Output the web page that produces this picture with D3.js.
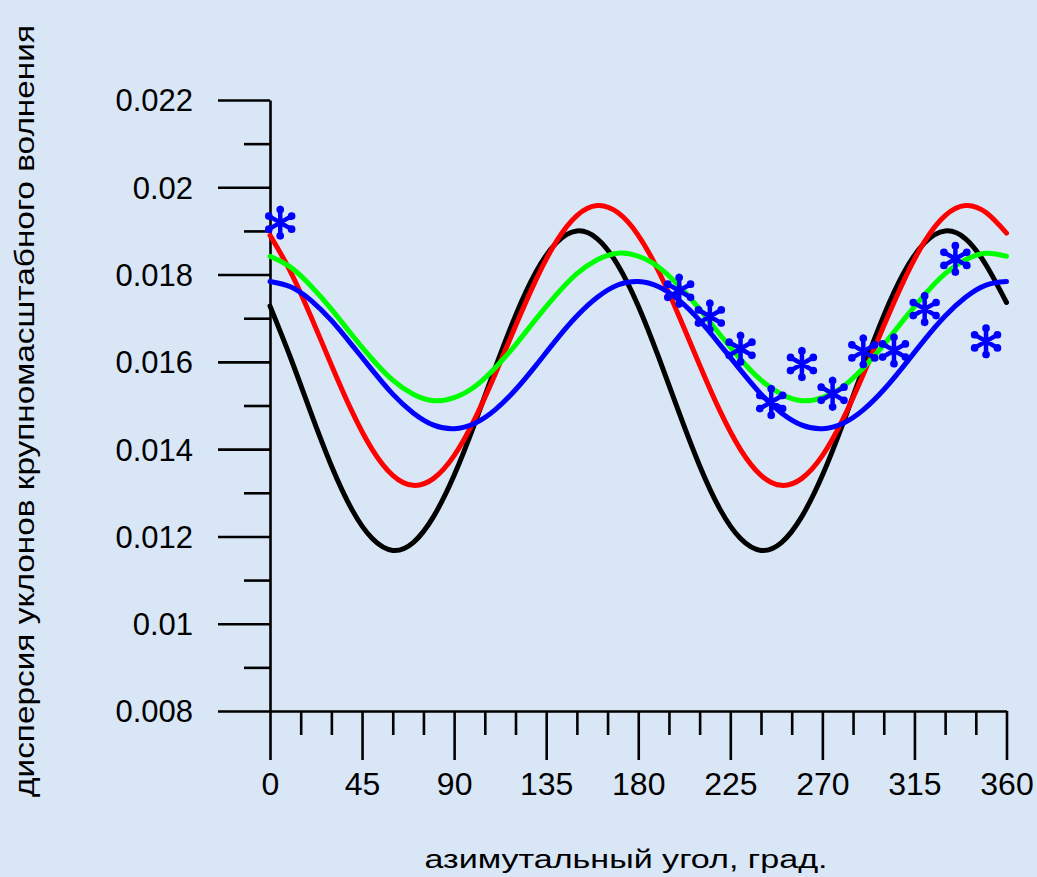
<!DOCTYPE html>
<html>
<head>
<meta charset="utf-8">
<script src="https://cdn.jsdelivr.net/npm/d3@7"></script>
<style>
  html, body { margin: 0; padding: 0; background: #d8e6f6; }
  svg { display: block; }
  text { font-family: Arial, "Liberation Sans", sans-serif; fill: #000; }
</style>
</head>
<body>
<svg id="chart" width="1037" height="877"></svg>
<script>
// ---- data ----
const angles = [0,10,20,30,40,50,60,70,80,90,100,110,120,130,140,150,160,170,180,
                190,200,210,220,230,240,250,260,270,280,290,300,310,320,330,340,350,360];
const blackSeries = [0.01728,0.01610,0.01483,0.01362,0.01262,0.01195,0.01168,0.01186,0.01246,0.01340,
                     0.01458,0.01585,0.01706,0.01806,0.01873,0.01900,0.01882,0.01822,0.01728,
                     0.01610,0.01483,0.01362,0.01262,0.01195,0.01168,0.01186,0.01246,0.01340,
                     0.01458,0.01585,0.01706,0.01806,0.01873,0.01900,0.01882,0.01822,0.01736];
const redSeries   = [0.01890,0.01807,0.01704,0.01593,0.01487,0.01399,0.01340,0.01317,0.01333,0.01385,
                     0.01468,0.01571,0.01682,0.01788,0.01876,0.01935,0.01958,0.01942,0.01890,
                     0.01807,0.01704,0.01593,0.01487,0.01399,0.01340,0.01317,0.01333,0.01385,
                     0.01468,0.01571,0.01682,0.01788,0.01876,0.01935,0.01958,0.01942,0.01895];
const greenSeries = [0.01842,0.01817,0.01774,0.01721,0.01662,0.01606,0.01558,0.01526,0.01511,0.01518,
                     0.01543,0.01586,0.01639,0.01698,0.01754,0.01802,0.01834,0.01849,0.01842,
                     0.01817,0.01774,0.01721,0.01662,0.01606,0.01558,0.01526,0.01511,0.01518,
                     0.01543,0.01586,0.01639,0.01698,0.01754,0.01802,0.01834,0.01849,0.01842];
const blueSeries  = [0.01784,0.01772,0.01741,0.01695,0.01639,0.01581,0.01526,0.01483,0.01455,0.01447,
                     0.01459,0.01490,0.01536,0.01592,0.01651,0.01705,0.01748,0.01776,0.01784,
                     0.01772,0.01741,0.01695,0.01639,0.01581,0.01526,0.01483,0.01455,0.01447,
                     0.01459,0.01490,0.01536,0.01592,0.01651,0.01705,0.01748,0.01776,0.01784];
const obsAngles = [5,200,215,230,245,260,275,290,305,320,335,350];
const obsValues = [0.01919,0.01763,0.01704,0.01630,0.01508,0.01595,0.01527,0.01624,0.01626,0.01721,0.01836,0.01647];

const xMajorTicks = [0,45,90,135,180,225,270,315,360];
const xMinorTicks = [15,30,60,75,105,120,150,165,195,210,240,255,285,300,330,345];
const yMajorTicks = [0.008,0.010,0.012,0.014,0.016,0.018,0.020,0.022];
const yMinorTicks = [0.009,0.011,0.013,0.015,0.017,0.019,0.021];
const yTickLabels = ["0.008","0.01","0.012","0.014","0.016","0.018","0.02","0.022"];

const xTitle = "азимутальный угол, град.";
const yTitle = "дисперсия уклонов крупномасштабного волнения";

// ---- layout ----
const svg = d3.select("#chart");
const x = d3.scaleLinear().domain([0, 360]).range([270, 1006.5]);
const y = d3.scaleLinear().domain([0.008, 0.022]).range([711, 100]);

svg.append("rect").attr("width", 1037).attr("height", 877).attr("fill", "#d8e6f6");

// x axis
const xMajor = d3.axisBottom(x).tickValues(xMajorTicks).tickSizeInner(49).tickSizeOuter(0)
  .tickFormat(d3.format("d"));
const gx = svg.append("g").attr("transform", `translate(0,${y(0.008)})`).call(xMajor);
gx.selectAll("text").attr("y", 84).attr("dy", "0").style("font-size", "32px");
const xMinor = d3.axisBottom(x).tickValues(xMinorTicks).tickSizeInner(24).tickSizeOuter(0).tickFormat("");
const gx2 = svg.append("g").attr("transform", `translate(0,${y(0.008)})`).call(xMinor);
gx2.select(".domain").remove();

// y axis
const yMajor = d3.axisLeft(y).tickValues(yMajorTicks).tickSizeInner(52).tickSizeOuter(0)
  .tickPadding(25).tickFormat((d, i) => yTickLabels[i]);
const gy = svg.append("g").attr("transform", `translate(${x(0)},0)`).call(yMajor);
gy.selectAll("text").style("font-size", "31px").attr("dy", "0.35em");
const yMinor = d3.axisLeft(y).tickValues(yMinorTicks).tickSizeInner(26).tickSizeOuter(0).tickFormat("");
const gy2 = svg.append("g").attr("transform", `translate(${x(0)},0)`).call(yMinor);
gy2.select(".domain").remove();

svg.selectAll(".domain, .tick line").attr("stroke", "#000").attr("stroke-width", 2.6);
svg.selectAll(".tick text").attr("fill", "#000").attr("font-family", "Arial, 'Liberation Sans', sans-serif");

// titles
svg.append("text").attr("x", 626).attr("y", 868).attr("text-anchor", "middle")
  .style("font-size", "26px").attr("textLength", 403).attr("lengthAdjust", "spacingAndGlyphs")
  .text(xTitle);
svg.append("text").attr("transform", "translate(33.5,411) rotate(-90)").attr("text-anchor", "middle")
  .style("font-size", "27px").attr("textLength", 772).attr("lengthAdjust", "spacingAndGlyphs")
  .text(yTitle);

// curves
const line = d3.line().x(d => x(d[0])).y(d => y(d[1])).curve(d3.curveNatural);
const series = [
  {vals: blackSeries, color: "#000000"},
  {vals: redSeries,   color: "#ff0000"},
  {vals: blueSeries,  color: "#0000ff"},
  {vals: greenSeries, color: "#00ff00"}
];
series.forEach(s => {
  svg.append("path")
    .datum(angles.map((a, i) => [a, s.vals[i]]))
    .attr("d", line)
    .attr("fill", "none")
    .attr("stroke", s.color)
    .attr("stroke-width", 5)
    .attr("stroke-linejoin", "round")
    .attr("stroke-linecap", "round");
});

// observation points: snowflake-like asterisk symbol (six arms with knobs)
const snowStar = {
  draw(context, size) {
    const r = Math.sqrt(size) * 0.6;
    for (let k = 0; k < 3; k++) {
      const ang = Math.PI / 2 + k * Math.PI / 3;
      const dx = r * Math.cos(ang), dy = r * Math.sin(ang);
      context.moveTo(-dx, -dy);
      context.lineTo(dx, dy);
    }
    for (let k = 0; k < 6; k++) {
      const ang = Math.PI / 2 + k * Math.PI / 3;
      const cx = r * 0.88 * Math.cos(ang), cy = r * 0.88 * Math.sin(ang);
      context.moveTo(cx + 1.6, cy);
      context.arc(cx, cy, 1.6, 0, 2 * Math.PI);
    }
  }
};
const star = d3.symbol().type(snowStar).size(620);
svg.append("g").selectAll("path")
  .data(obsAngles.map((a, i) => [a, obsValues[i]]))
  .join("path")
  .attr("transform", d => `translate(${x(d[0])},${y(d[1])})`)
  .attr("d", star)
  .attr("fill", "#0000ff")
  .attr("stroke", "#0000ff")
  .attr("stroke-width", 4.5)
  .attr("stroke-linecap", "round");
</script>
</body>
</html>
